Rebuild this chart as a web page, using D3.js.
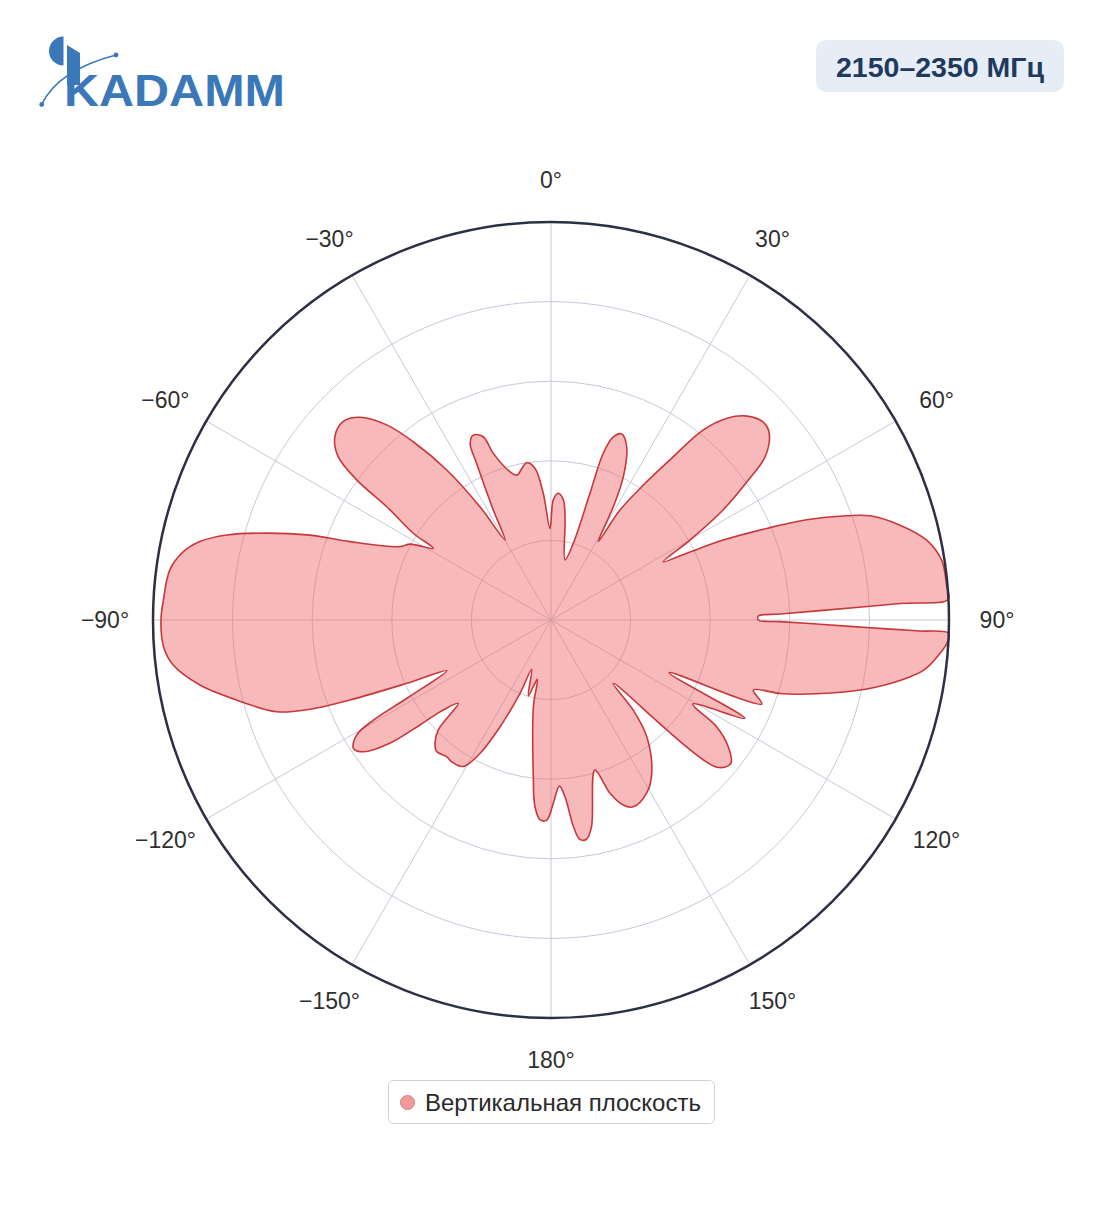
<!DOCTYPE html>
<html><head><meta charset="utf-8">
<script src="https://cdn.jsdelivr.net/npm/d3@7"></script>
<style>
body{margin:0;background:#fff}
text{font-family:"Liberation Sans",Arial,sans-serif}
</style>
</head><body>
<svg id="chart" width="1104" height="1211"></svg>
<script>
// ---- data ----
const angles = [1.1,3.3,5.9,8.0,13.1,16.2,17.1,17.4,18.8,20.8,23.6,26.8,28.8,31.1,32.1,34.4,36.6,38.7,41.1,43.9,47.0,49.4,52.7,54.5,57.4,60.1,62.6,63.9,65.1,67.0,68.6,70.6,71.9,74.8,78.0,81.3,85.2,87.0,87.3,88.0,88.5,88.9,90.0,90.4,90.9,91.4,91.7,91.9,93.4,94.9,97.7,100.6,103.0,106.6,107.8,109.1,111.7,114.0,116.9,120.7,122.8,125.6,128.6,131.6,135.5,137.6,140.6,146.7,151.1,156.2,158.7,161.2,163.7,168.9,170.8,172.5,173.8,175.5,177.1,179.3,181.2,183.1,184.9,186.6,191.5,193.0,196.6,201.4,202.9,205.5,208.0,210.9,215.0,217.3,221.0,223.3,225.7,228.1,230.4,231.3,232.6,234.9,237.0,239.4,240.6,241.5,244.1,246.3,248.3,249.7,251.5,255.0,259.5,263.2,266.1,270.0,273.0,277.5,280.5,282.6,284.7,287.0,289.4,291.3,295.9,298.3,301.3,302.2,304.6,305.8,307.5,310.3,313.7,316.7,319.9,322.3,325.2,327.9,330.1,332.3,334.6,335.4,337.2,339.7,340.9,344.5,346.7,351.2,354.0,356.5,359.4];
const gains  = [0.302,0.319,0.303,0.254,0.155,0.200,0.333,0.439,0.486,0.500,0.475,0.403,0.325,0.230,0.326,0.411,0.501,0.612,0.673,0.711,0.729,0.722,0.676,0.614,0.513,0.403,0.318,0.389,0.477,0.589,0.690,0.788,0.843,0.909,0.965,0.993,0.998,1.0,0.878,0.676,0.576,0.521,0.521,0.575,0.676,0.802,0.928,1.0,0.996,0.981,0.944,0.867,0.788,0.653,0.604,0.538,0.570,0.325,0.546,0.414,0.495,0.548,0.578,0.557,0.223,0.306,0.379,0.461,0.497,0.513,0.499,0.460,0.393,0.529,0.558,0.556,0.522,0.445,0.418,0.461,0.503,0.503,0.471,0.388,0.222,0.153,0.199,0.133,0.200,0.297,0.379,0.429,0.435,0.432,0.438,0.425,0.396,0.313,0.362,0.422,0.510,0.576,0.592,0.567,0.512,0.412,0.291,0.396,0.544,0.646,0.727,0.800,0.897,0.956,0.976,0.980,0.975,0.966,0.940,0.904,0.842,0.747,0.642,0.542,0.422,0.402,0.346,0.409,0.501,0.602,0.674,0.712,0.722,0.700,0.641,0.566,0.459,0.336,0.232,0.312,0.436,0.488,0.504,0.491,0.443,0.387,0.374,0.400,0.383,0.319,0.230];
const angleTicks = [0,30,60,90,120,150,180,-150,-120,-90,-60,-30];
const angleTickLabels = ["0°","30°","60°","90°","120°","150°","180°","−150°","−120°","−90°","−60°","−30°"];
const radialTicks = [0.2,0.4,0.6,0.8];
const seriesName = "Вертикальная плоскость";
const bandLabel = "2150–2350 МГц";
const logoText = "KADAMM";

// ---- layout ----
const W = 1104, H = 1211;
const cx = 551, cy = 620, R = 398;
const svg = d3.select("#chart");
svg.append("rect").attr("width",W).attr("height",H).attr("fill","#fff");

const aScale = d3.scaleLinear().domain([0,360]).range([0,2*Math.PI]);
const rScale = d3.scaleLinear().domain([0,1]).range([0,R]);

const g = svg.append("g").attr("transform",`translate(${cx},${cy})`);
const gridColor = "#c6cad8";

// grid circles
g.selectAll("circle.grid").data(radialTicks).join("circle")
  .attr("class","grid").attr("r",d=>rScale(d))
  .attr("fill","none").attr("stroke",gridColor).attr("stroke-width",1);

// radial spokes
g.selectAll("line.spoke").data(angleTicks).join("line")
  .attr("class","spoke")
  .attr("x1",0).attr("y1",0)
  .attr("x2",d=>rScale(1)*Math.sin(aScale(d)))
  .attr("y2",d=>-rScale(1)*Math.cos(aScale(d)))
  .attr("stroke",gridColor).attr("stroke-width",1);

// pattern
const pts = angles.map((a,i)=>({a, v:gains[i]}));
const line = d3.lineRadial()
  .angle(d=>aScale(d.a))
  .radius(d=>rScale(d.v))
  .curve(d3.curveCatmullRomClosed.alpha(0.5));

g.append("path").datum(pts)
  .attr("d",line)
  .attr("fill","rgba(240,100,102,0.45)")
  .attr("stroke","#c8373a").attr("stroke-width",1.6)
  .attr("stroke-linejoin","round");

// outer circle
g.append("circle").attr("r",rScale(1)).attr("fill","none")
  .attr("stroke","#2b3044").attr("stroke-width",2.5);

// angular labels
g.selectAll("text.tick").data(angleTicks).join("text")
  .attr("class","tick")
  .attr("x",d=>(440+6*Math.abs(Math.sin(aScale(d))))*Math.sin(aScale(d)))
  .attr("y",d=>-(440)*Math.cos(aScale(d)))
  .attr("text-anchor","middle").attr("dominant-baseline","central")
  .attr("font-size",23).attr("fill","#2f2f2f")
  .text((d,i)=>angleTickLabels[i]);

// ---- band label box ----
svg.append("rect").attr("x",816).attr("y",40).attr("width",248).attr("height",52)
  .attr("rx",10).attr("fill","#e6edf6");
svg.append("text").attr("x",940).attr("y",76.5).attr("text-anchor","middle")
  .attr("font-size",28.5).attr("font-weight","bold").attr("fill","#1f3a5e")
  .text(bandLabel);

// ---- legend ----
svg.append("rect").attr("x",388.5).attr("y",1080.5).attr("width",326).attr("height",43)
  .attr("rx",5).attr("fill","#fff").attr("stroke","#d0d0d0").attr("stroke-width",1);
svg.append("circle").attr("cx",407.5).attr("cy",1102.5).attr("r",7)
  .attr("fill","#f09a9b").attr("stroke","#d97a7c").attr("stroke-width",1);
svg.append("text").attr("x",425).attr("y",1110.5).attr("font-size",24).attr("fill","#2a2a2a")
  .text(seriesName);

// ---- logo ----
const blue = "#3b78b9";
const logo = svg.append("g");
logo.append("path").attr("d","M63.5,36.5 A14.5,14.5 0 0 0 63.5,65.5 Z").attr("fill",blue);
logo.append("path").attr("d","M41.7,104.5 Q58,70 116,55").attr("fill","none").attr("stroke",blue).attr("stroke-width",1.6);
logo.append("circle").attr("cx",41.7).attr("cy",104.5).attr("r",2.4).attr("fill",blue);
logo.append("circle").attr("cx",116).attr("cy",55).attr("r",2.4).attr("fill",blue);
logo.append("path").attr("d","M67,45 L80,53 L80,85 L67,85 Z").attr("fill",blue);
logo.append("text").attr("x",64).attr("y",106).attr("font-family","'DejaVu Sans',sans-serif")
  .attr("font-weight","bold").attr("font-size",45).attr("fill",blue)
  .attr("textLength",221).attr("lengthAdjust","spacingAndGlyphs")
  .text(logoText);
</script>
</body></html>
